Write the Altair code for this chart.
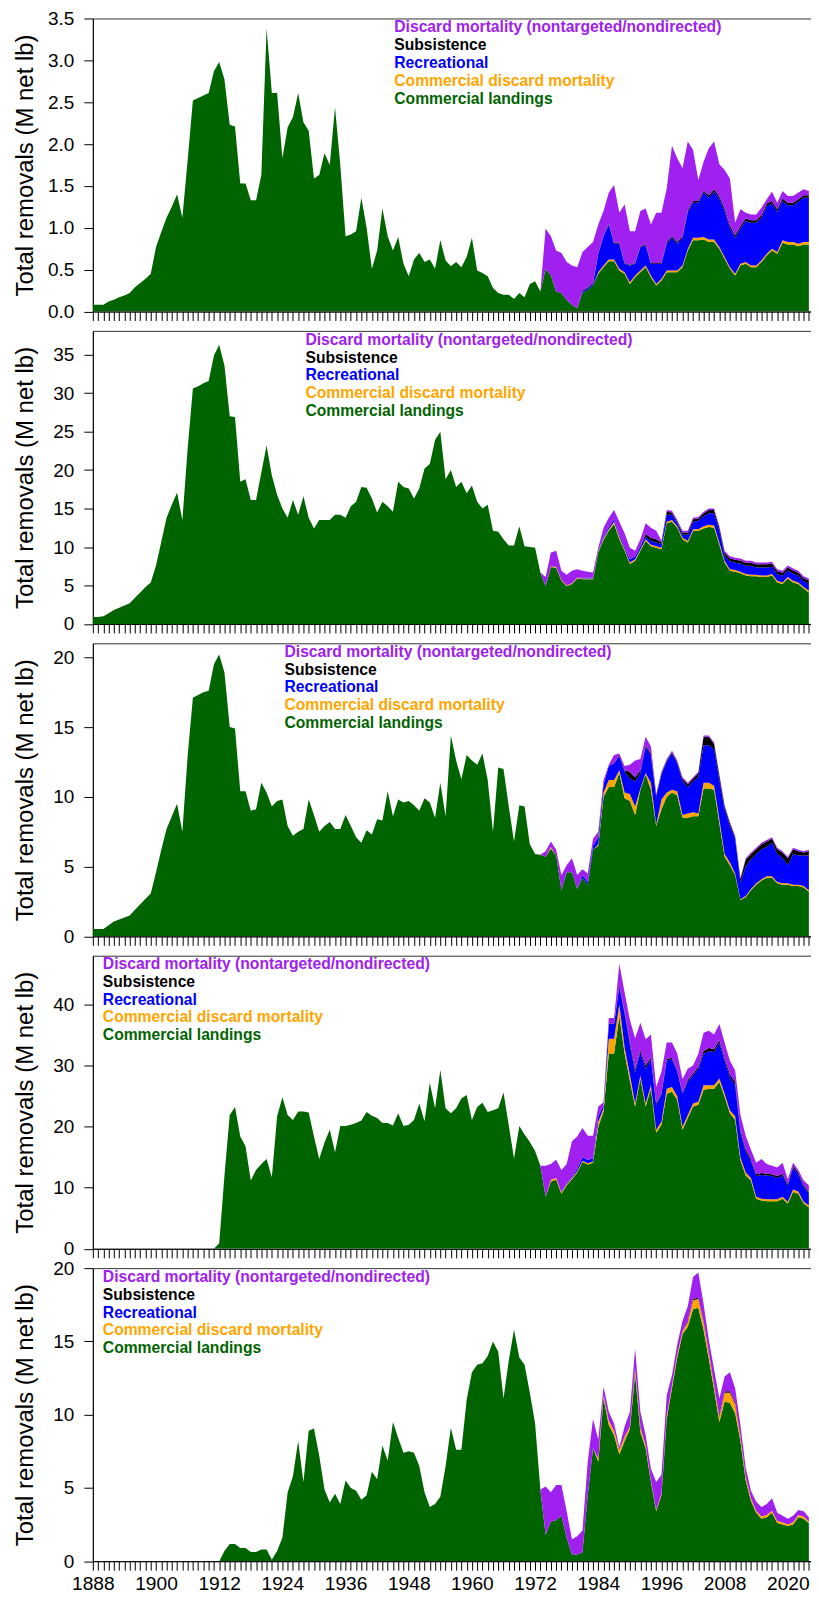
import altair as alt
import pandas as pd

YEARS = list(range(1888, 2025))
OTHER_START = 1973  # first year of the non-landings series below

SERIES = ["Commercial landings", "Commercial discard mortality", "Recreational",
          "Subsistence", "Discard mortality (nontargeted/nondirected)"]
COLORS = ["#006400", "#FFA500", "#0000FF", "#000000", "#A020F0"]

X_LABEL_YEARS = [1888, 1900, 1912, 1924, 1936, 1948, 1960, 1972, 1984, 1996, 2008, 2020]

# ---------------- Panel 1 ----------------
P1_LANDINGS = [0.08, 0.08, 0.08, 0.12, 0.14, 0.17, 0.19, 0.22, 0.29, 0.34, 0.39, 0.45,
               0.77, 0.95, 1.12, 1.25, 1.40, 1.12, 1.80, 2.52, 2.55, 2.58,
               2.61, 2.87, 2.98, 2.77, 2.23, 2.21, 1.53, 1.53, 1.33, 1.33,
               1.63, 3.38, 2.61, 2.61, 1.83, 2.20, 2.32, 2.61, 2.26, 2.16,
               1.59, 1.63, 1.89, 1.75, 2.44, 1.75, 0.90, 0.92, 0.96, 1.36,
               1.00, 0.51, 0.73, 1.23, 0.90, 0.73, 0.89, 0.57, 0.42, 0.62,
               0.70, 0.59, 0.62, 0.51, 0.85, 0.61, 0.54, 0.59, 0.53, 0.65,
               0.88, 0.49, 0.46, 0.42, 0.28, 0.22, 0.20, 0.20, 0.15, 0.22,
               0.17, 0.33, 0.36, 0.24, 0.51, 0.43, 0.24, 0.22, 0.14, 0.08,
               0.04, 0.22, 0.26, 0.31, 0.45, 0.53, 0.60, 0.60, 0.49, 0.45,
               0.33, 0.41, 0.47, 0.53, 0.41, 0.31, 0.37, 0.47, 0.47, 0.47,
               0.53, 0.73, 0.85, 0.85, 0.86, 0.83, 0.83, 0.75, 0.63, 0.51,
               0.43, 0.55, 0.57, 0.53, 0.53, 0.59, 0.67, 0.73, 0.69, 0.82,
               0.80, 0.80, 0.78, 0.80, 0.80]
P1_COMM_DISC = [0, 0, 0, 0, 0, 0, 0,
                0, 0, 0, 0, 0.02, 0.02, 0.02, 0.02, 0.02, 0.02,
                0.02, 0.02, 0.02, 0.02, 0.02, 0.02, 0.02, 0.02, 0.02, 0.02,
                0.02, 0.02, 0.03, 0.03, 0.03, 0.03, 0.03, 0.02, 0.02, 0.02,
                0.02, 0.02, 0.02, 0.02, 0.02, 0.02, 0.02, 0.02, 0.02, 0.03,
                0.03, 0.03, 0.03, 0.03, 0.03]
P1_REC = [0, 0, 0, 0, 0, 0, 0,
          0, 0.02, 0.02, 0.02, 0.22, 0.35, 0.42, 0.19, 0.30, 0.10,
          0.20, 0.14, 0.28, 0.24, 0.14, 0.24, 0.18, 0.32, 0.39, 0.32,
          0.33, 0.44, 0.42, 0.42, 0.53, 0.50, 0.57, 0.57, 0.55, 0.47,
          0.43, 0.42, 0.49, 0.51, 0.51, 0.51, 0.57, 0.54, 0.48, 0.47,
          0.44, 0.44, 0.50, 0.53, 0.53]
P1_SUBS = [0, 0, 0, 0, 0, 0, 0,
           0, 0.01, 0.01, 0.01, 0.01, 0.01, 0.01, 0.01, 0.01, 0.01,
           0.01, 0.01, 0.01, 0.01, 0.01, 0.01, 0.01, 0.02, 0.02, 0.02,
           0.02, 0.02, 0.02, 0.02, 0.02, 0.03, 0.03, 0.03, 0.03, 0.03,
           0.03, 0.03, 0.03, 0.03, 0.03, 0.03, 0.03, 0.03, 0.03, 0.03,
           0.03, 0.03, 0.03, 0.03, 0.03]
P1_DISC = [0, 0.48, 0.47, 0.49, 0.48, 0.45, 0.47,
           0.49, 0.46, 0.48, 0.49, 0.34, 0.29, 0.37, 0.69, 0.36, 0.70,
           0.40, 0.38, 0.42, 0.43, 0.46, 0.60, 0.60, 0.64, 1.08, 1.00,
           0.81, 0.82, 0.61, 0.25, 0.35, 0.56, 0.57, 0.39, 0.46, 0.56,
           0.15, 0.20, 0.07, 0.07, 0.07, 0.09, 0.05, 0.11, 0.08, 0.09,
           0.08, 0.08, 0.08, 0.07, 0.05]

# ---------------- Panel 2 ----------------
P2_LANDINGS = [0.9, 0.9, 1.0, 1.4, 1.8, 2.1, 2.4, 2.7, 3.4, 4.1, 4.8, 5.4,
               7.6, 10.7, 13.8, 15.5, 17.1, 13.5, 22.7, 30.6, 30.9, 31.3,
               31.6, 34.9, 36.3, 33.6, 27.0, 26.9, 18.5, 18.8, 16.1, 16.1,
               19.7, 23.2, 19.3, 16.8, 15.0, 13.8, 16.1, 14.2, 16.6, 13.8,
               12.4, 13.5, 13.5, 13.5, 14.2, 14.2, 13.8, 15.3, 15.9, 17.8,
               17.7, 16.3, 14.5, 15.9, 15.3, 14.6, 18.5, 17.8, 17.6, 16.3,
               17.6, 20.2, 20.8, 23.9, 25.0, 18.8, 20.0, 17.8, 18.5, 17.0,
               18.0, 15.9, 15.0, 15.5, 12.1, 12.0, 11.0, 10.2, 10.2, 12.7,
               10.1, 10.0, 9.9, 6.7, 4.9, 7.4, 7.3, 5.6, 4.9, 5.2,
               5.9, 5.8, 5.8, 5.8, 9.3, 10.9, 12.1, 13.0, 11.0, 9.5,
               7.8, 8.2, 9.5, 10.8, 10.1, 9.9, 9.7, 13.1, 13.3, 12.5,
               11.0, 10.6, 12.1, 12.1, 12.4, 12.6, 12.5, 10.3, 8.0, 6.9,
               6.8, 6.6, 6.3, 6.2, 6.2, 6.1, 6.1, 6.3, 5.4, 5.2,
               5.9, 5.4, 5.2, 4.6, 4.1]
P2_COMM_DISC = [0, 0, 0.1, 0.1, 0.1, 0.1, 0.1,
                0.1, 0.1, 0.1, 0.1, 0.1, 0.2, 0.2, 0.3, 0.3, 0.2,
                0.2, 0.2, 0.2, 0.2, 0.2, 0.2, 0.2, 0.2, 0.2, 0.2,
                0.2, 0.2, 0.2, 0.2, 0.3, 0.3, 0.3, 0.3, 0.2, 0.2,
                0.2, 0.2, 0.2, 0.2, 0.2, 0.2, 0.2, 0.2, 0.2, 0.2,
                0.2, 0.2, 0.2, 0.2, 0.2]
P2_REC = [0, 0, 0, 0, 0, 0, 0,
          0, 0.1, 0.1, 0.1, 0.1, 0.2, 0.3, 0.3, 0.3, 0.3,
          0.4, 0.4, 0.4, 0.3, 0.5, 0.5, 0.5, 0.9, 0.7, 0.4,
          0.4, 0.8, 1.0, 1.1, 1.3, 1.5, 1.6, 1.5, 0.65, 1.05,
          0.95, 1.05, 1.05, 1.15, 0.95, 1.05, 1.05, 0.95, 0.85, 0.85,
          0.85, 0.95, 0.85, 0.75, 0.95]
P2_SUBS = [0, 0, 0, 0, 0, 0, 0,
           0, 0, 0, 0, 0, 0, 0, 0, 0, 0,
           0, 0, 0, 0.4, 0.4, 0.4, 0.2, 0.4, 0.3, 0.2,
           0.3, 0.3, 0.3, 0.3, 0.4, 0.4, 0.4, 0.4, 0.4, 0.4,
           0.4, 0.4, 0.4, 0.4, 0.4, 0.4, 0.4, 0.4, 0.4, 0.4,
           0.4, 0.4, 0.4, 0.4, 0.4]
P2_DISC = [0, 1.2, 1.8, 2.1, 1.2, 1.4, 1.6,
           1.1, 0.9, 0.8, 0.7, 0.4, 1.2, 1.2, 1.2, 1.7, 1.8,
           1.5, 0.7, 0.9, 1.4, 1.3, 1.1, 0.2, 0.2, 0.2, 0.2,
           0.2, 0.2, 0.2, 0.2, 0.2, 0.2, 0.2, 0.2, 0.25, 0.25,
           0.25, 0.25, 0.25, 0.25, 0.25, 0.25, 0.25, 0.25, 0.25, 0.25,
           0.25, 0.25, 0.25, 0.25, 0.25]

# ---------------- Panel 3 ----------------
P3_LANDINGS = [0.52, 0.52, 0.52, 0.8, 1.06, 1.2, 1.35, 1.5, 1.9, 2.3, 2.7, 3.07,
               4.6, 6.2, 7.7, 8.6, 9.5, 7.5, 12.9, 17.1, 17.3, 17.5,
               17.6, 19.5, 20.2, 18.9, 15.0, 14.9, 10.4, 10.4, 9.0, 9.1,
               11.0, 10.3, 9.3, 9.7, 9.8, 7.9, 7.2, 7.5, 7.7, 9.8,
               8.7, 7.5, 7.9, 8.2, 7.7, 7.7, 8.7, 7.9, 7.1, 6.7,
               7.6, 7.3, 8.4, 8.3, 10.4, 8.6, 9.8, 9.6, 9.7, 9.4,
               9.0, 9.9, 9.6, 8.5, 11.0, 8.6, 14.4, 12.6, 11.25, 13.0,
               12.6, 12.3, 13.1, 11.2, 7.5, 12.1, 12.0, 9.3, 6.8, 9.4,
               9.3, 6.6, 5.9, 5.85, 5.7, 6.3, 5.8, 3.3, 4.6, 4.6,
               3.4, 4.2, 3.7, 6.2, 6.5, 10.0, 10.7, 10.7, 11.7, 9.9,
               9.7, 8.7, 10.5, 11.6, 10.5, 7.9, 9.1, 10.0, 10.3, 10.1,
               8.5, 8.5, 8.6, 8.6, 10.6, 10.6, 10.5, 8.1, 5.7, 5.1,
               4.4, 2.6, 2.8, 3.3, 3.7, 4.0, 4.2, 4.2, 3.8, 3.7,
               3.7, 3.6, 3.6, 3.5, 3.2]
P3_COMM_DISC = [0, 0, 0.1, 0, 0, 0, 0,
                0, 0, 0, 0, 0.1, 0.3, 0.5, 0.5, 0.2, 0.4,
                0.5, 0.6, 0.1, 0.1, 0.5, 0.1, 0.7, 0.3, 0.2, 0.3,
                0.2, 0.3, 0.3, 0.2, 0.4, 0.4, 0.3, 0.3, 0.2, 0.2,
                0.1, 0.05, 0.1, 0.1, 0.1, 0.1, 0.1, 0.1, 0.1, 0.1,
                0.1, 0.1, 0.1, 0.1, 0.1]
P3_REC = [0, 0, 0, 0, 0, 0, 0,
          0, 0.2, 0.2, 0.3, 0.5, 0.6, 1.0, 1.2, 1.0, 1.5,
          1.1, 1.8, 1.1, 1.9, 1.9, 2.0, 1.8, 2.2, 2.6, 2.0,
          2.4, 1.9, 2.2, 2.6, 2.7, 2.7, 2.6, 2.8, 3.2, 2.6,
          2.5, 1.15, 2.1, 2.1, 2.1, 2.15, 2.1, 2.4, 2.0, 1.8,
          1.3, 2.2, 2.1, 2.2, 2.5]
P3_SUBS = [0, 0, 0, 0, 0, 0, 0,
           0, 0, 0, 0, 0, 0, 0, 0, 0.1, 0.1,
           0.5, 0.3, 0.2, 0.1, 0.2, 0.1, 0.1, 0.1, 0.1, 0.1,
           0.2, 0.2, 0.2, 0.3, 0.6, 0.6, 0.4, 0.3, 0.2, 0.2,
           0.1, 0.3, 0.5, 0.4, 0.35, 0.35, 0.4, 0.3, 0.35, 0.4,
           0.5, 0.35, 0.3, 0.2, 0.3]
P3_DISC = [0, 0.4, 0.4, 0.4, 1.1, 0.5, 1.0,
           1.0, 0.4, 0.6, 0.5, 0.4, 0.3, 0.1, 0.6, 0.1, 0.3,
           0.5, 1.2, 0.8, 0.6, 0.5, 0.1, 0.1, 0.1, 0.1, 0.1,
           0.1, 0.1, 0.1, 0.1, 0.1, 0.1, 0.1, 0.1, 0.1, 0.1,
           0.1, 0.1, 0.1, 0.1, 0.1, 0.1, 0.1, 0.1, 0.1, 0.1,
           0.1, 0.1, 0.1, 0.1, 0.1]

# ---------------- Panel 4 ----------------
P4_LANDINGS = [0, 0, 0, 0, 0, 0, 0, 0, 0, 0, 0, 0,
               0, 0, 0, 0, 0, 0, 0, 0, 0, 0,
               0, 0, 0.9, 12.0, 21.9, 23.2, 18.4, 16.8, 11.2, 12.9,
               13.9, 14.7, 11.7, 21.7, 24.8, 21.9, 21.1, 22.5, 22.5, 22.3,
               18.4, 14.7, 17.4, 19.5, 15.8, 20.1, 20.1, 20.3, 20.6, 21.0,
               22.4, 21.8, 21.4, 20.6, 20.6, 20.2, 22.2, 20.1, 20.3, 21.1,
               23.8, 20.9, 27.2, 23.0, 29.3, 23.0, 22.2, 23.0, 24.6, 25.2,
               21.1, 23.2, 23.9, 22.4, 22.7, 23.0, 25.6, 20.2, 14.8, 20.1,
               18.7, 17.5, 16.0, 13.6, 8.5, 11.0, 11.3, 9.0, 10.4, 11.4,
               12.5, 14.2, 13.8, 14.1, 20.0, 22.5, 32.0, 32.0, 38.1, 32.0,
               27.5, 23.3, 27.9, 23.3, 26.2, 19.0, 20.3, 25.4, 25.7, 24.4,
               19.5, 21.4, 23.3, 23.6, 26.0, 26.2, 26.2, 27.3, 24.9, 22.2,
               21.1, 14.5, 12.0, 11.2, 8.2, 7.9, 7.8, 7.8, 7.8, 8.2,
               7.4, 9.3, 9.0, 7.4, 6.8]
P4_COMM_DISC = [0, 0, 0.3, 0.3, 0.2, 0.2, 0.2,
                0.2, 0.2, 0.2, 0.2, 0.8, 0.5, 2.4, 2.4, 1.9, 1.0,
                1.0, 0.5, 0.5, 0.5, 0.6, 0.5, 0.5, 0.8, 0.8, 0.6,
                0.5, 0.5, 0.5, 0.5, 0.8, 0.6, 0.6, 0.6, 0.5, 0.5,
                0.6, 0.5, 0.5, 0.4, 0.3, 0.3, 0.3, 0.3, 0.3, 0.3,
                0.3, 0.4, 0.4, 0.3, 0.3]
P4_REC = [0, 0, 0, 0, 0, 0.2, 0.2,
          0.4, 0.6, 0.6, 0.5, 0.9, 0.5, 2.4, 2.4, 2.9, 5.5,
          5.0, 5.1, 3.8, 5.7, 4.3, 4.0, 4.5, 4.6, 4.6, 4.0,
          5.4, 5.5, 4.6, 5.4, 5.1, 5.6, 5.4, 5.9, 5.4, 5.4,
          5.1, 4.0, 3.4, 2.8, 3.4, 3.9, 3.9, 3.8, 3.5, 3.5,
          2.6, 3.6, 2.8, 2.4, 2.0]
P4_SUBS = [0, 0, 0, 0, 0, 0, 0,
           0, 0, 0, 0, 0, 0, 0.1, 0.1, 0.3, 0.3,
           0.5, 0.5, 0.3, 0.5, 0.3, 0.3, 0.2, 0.3, 0.2, 0.2,
           0.2, 0.3, 0.3, 0.3, 0.5, 0.5, 0.5, 0.4, 0.4, 0.5,
           0.5, 0.4, 0.4, 0.3, 0.3, 0.3, 0.3, 0.3, 0.3, 0.3,
           0.3, 0.3, 0.3, 0.3, 0.2]
P4_DISC = [0, 5.1, 2.6, 3.0, 3.7, 3.1, 5.8,
           5.3, 4.8, 3.9, 3.7, 1.6, 0.5, 0.9, 0.9, 3.5, 3.2,
           3.5, 5.1, 4.5, 4.3, 3.7, 2.7, 3.5, 2.7, 2.5, 2.8,
           2.2, 1.8, 1.3, 2.1, 3.0, 2.8, 2.4, 2.6, 2.6, 2.2,
           1.9, 2.5, 2.2, 1.5, 1.9, 2.3, 1.6, 1.4, 1.4, 1.8,
           0.8, 0.5, 0.4, 0.8, 1.1]

# ---------------- Panel 5 ----------------
P5_LANDINGS = [0, 0, 0, 0, 0, 0, 0, 0, 0, 0, 0, 0,
               0, 0, 0, 0, 0, 0, 0, 0, 0, 0,
               0, 0, 0, 0.7, 1.17, 1.17, 0.9, 0.9, 0.63, 0.63,
               0.79, 0.79, 0.1, 0.7, 1.6, 4.7, 5.8, 8.2, 5.4, 8.9,
               9.05, 7.2, 4.9, 4.0, 4.6, 3.9, 5.5, 5.0, 4.8, 4.2,
               4.5, 6.1, 5.6, 7.9, 6.85, 9.5, 8.4, 7.4, 7.5, 7.4,
               6.5, 4.7, 3.7, 3.9, 4.4, 6.5, 9.1, 7.6, 7.6, 11.0,
               12.9, 13.4, 13.5, 14.0, 15.0, 14.3, 11.1, 13.7, 15.8, 13.9,
               13.4, 11.5, 9.4, 4.9, 1.8, 2.7, 2.8, 3.1, 1.6, 0.45,
               0.45, 0.6, 4.5, 7.7, 6.8, 11.1, 9.3, 8.6, 7.3, 8.2,
               9.0, 12.8, 8.8, 7.7, 5.4, 3.4, 4.5, 9.7, 11.8, 13.9,
               15.5, 16.0, 17.2, 17.3, 15.8, 13.8, 11.7, 9.5, 10.9, 10.8,
               10.1, 8.2, 5.5, 4.1, 3.3, 2.9, 3.0, 3.3, 2.6, 2.5,
               2.4, 2.5, 3.0, 2.9, 2.6]
P5_COMM_DISC = [0, 0, 0, 0, 0, 0, 0,
                0, 0, 0, 0, 0.2, 0.2, 0.3, 0.3, 0.3, 0.3,
                0.2, 0.3, 0.3, 0.2, 0.1, 0.1, 0.1, 0.2, 0.2, 0.2,
                0.2, 0.3, 0.6, 0.6, 0.5, 0.4, 0.3, 0.3, 0.6, 0.7,
                0.6, 0.3, 0.25, 0.2, 0.15, 0.15, 0.15, 0.15, 0.15, 0.15,
                0.1, 0.15, 0.15, 0.15, 0.1]
P5_REC = [0, 0, 0, 0, 0, 0, 0,
          0, 0, 0, 0, 0, 0, 0, 0, 0, 0,
          0, 0, 0, 0, 0, 0, 0, 0, 0, 0,
          0, 0, 0, 0, 0, 0, 0, 0, 0, 0,
          0, 0, 0, 0, 0, 0, 0, 0, 0, 0,
          0, 0, 0, 0, 0]
P5_SUBS = [0, 0, 0, 0, 0, 0, 0,
           0, 0, 0, 0, 0, 0.05, 0, 0, 0, 0,
           0, 0.1, 0.1, 0, 0, 0, 0, 0, 0, 0,
           0, 0.1, 0.1, 0.1, 0.05, 0.05, 0.05, 0.05, 0.1, 0.1,
           0.1, 0.05, 0.05, 0, 0, 0, 0, 0, 0, 0,
           0, 0, 0, 0, 0]
P5_DISC = [0, 3.3, 2.0, 2.4, 2.1, 1.8, 1.05,
           1.25, 1.5, 2.3, 2.0, 1.3, 0.55, 0.6, 0.5, 0.2, 0.7,
           1.0, 1.3, 1.0, 0.7, 0.8, 1.9, 1.3, 1.4, 0.7, 0.7,
           0.7, 1.0, 1.5, 1.7, 1.2, 0.85, 1.05, 1.25, 1.0, 1.3,
           1.0, 0.75, 0.6, 0.5, 0.6, 0.65, 0.75, 0.85, 0.55, 0.45,
           0.4, 0.45, 0.35, 0.35, 0.3]

Y_TICKS = [
    [0.0, 0.5, 1.0, 1.5, 2.0, 2.5, 3.0, 3.5],
    [0, 5, 10, 15, 20, 25, 30, 35],
    [0, 5, 10, 15, 20],
    [0, 10, 20, 30, 40],
    [0, 5, 10, 15, 20],
]
Y_MAX = [3.5, 38.1, 21.0, 48.0, 20.0]
Y_FMT = [".1f", "d", "d", "d", "d"]

PANEL_SERIES = [
    (P1_LANDINGS, P1_COMM_DISC, P1_REC, P1_SUBS, P1_DISC),
    (P2_LANDINGS, P2_COMM_DISC, P2_REC, P2_SUBS, P2_DISC),
    (P3_LANDINGS, P3_COMM_DISC, P3_REC, P3_SUBS, P3_DISC),
    (P4_LANDINGS, P4_COMM_DISC, P4_REC, P4_SUBS, P4_DISC),
    (P5_LANDINGS, P5_COMM_DISC, P5_REC, P5_SUBS, P5_DISC),
]

# layout (pixels, relative to each plot area)
LEGEND_X = [302, 213, 192, 10, 10]
LEGEND_Y0 = [9, 9, 8.5, 8.5, 9]
LEGEND_STEP = 17.8
PLOT_W = 720
PLOT_H = 293.6
FONT = "Liberation Sans"


def build_frame(series):
    rows = []
    for i, yr in enumerate(YEARS):
        for k, arr in enumerate(series):
            if k == 0:
                v = arr[i]
            else:
                j = yr - OTHER_START
                v = arr[j] if j >= 0 else 0.0
            rows.append({"year": yr, "series": SERIES[k], "order": k, "value": v})
    return pd.DataFrame(rows)


def make_panel(p, bottom):
    df = build_frame(PANEL_SERIES[p])
    if bottom:
        xaxis = alt.Axis(values=YEARS, format="d", title=None,
                         labelExpr="indexof(" + str(X_LABEL_YEARS) + ", datum.value) >= 0 ? datum.label : ''",
                         labelOverlap=False, labelFlush=False, labelFontSize=19.2, labelFont=FONT,
                         labelColor="black", labelPadding=4.5, tickSize=9, tickColor="black",
                         domainColor="black", grid=False)
    else:
        xaxis = alt.Axis(values=YEARS, labels=False, title=None, tickSize=9, tickColor="black",
                         domainColor="black", grid=False)
    yaxis = alt.Axis(values=Y_TICKS[p], format=Y_FMT[p], title="Total removals (M net lb)",
                     titleFontSize=24, titleFont=FONT, titleFontWeight="normal", titleColor="black",
                     titleX=-67.5, titleY=PLOT_H / 2, titleAngle=270, titleAlign="center",
                     titleBaseline="middle",
                     labelFontSize=19, labelFont=FONT, labelColor="black", labelPadding=10,
                     tickSize=9, tickColor="black", domainColor="black", grid=False)
    area = alt.Chart(df).mark_area(interpolate="linear", clip=True).encode(
        x=alt.X("year:Q", scale=alt.Scale(domain=[1888, 2024.5], nice=False, zero=False), axis=xaxis),
        y=alt.Y("value:Q", stack="zero", scale=alt.Scale(domain=[0, Y_MAX[p]], nice=False), axis=yaxis),
        color=alt.Color("series:N", scale=alt.Scale(domain=SERIES, range=COLORS), legend=None),
        order=alt.Order("order:Q", sort="ascending"),
    )
    layers = [area]
    for i, k in enumerate([4, 3, 2, 1, 0]):
        t = alt.Chart(pd.DataFrame({"label": [SERIES[k]]})).mark_text(
            align="left", baseline="middle", fontSize=15.7, fontWeight="bold", font=FONT,
            color=COLORS[k]
        ).encode(
            x=alt.value(LEGEND_X[p]),
            y=alt.value(LEGEND_Y0[p] + i * LEGEND_STEP),
            text="label:N",
        )
        layers.append(t)
    return alt.layer(*layers).properties(width=PLOT_W, height=PLOT_H)


panels = [make_panel(p, p == 4) for p in range(5)]
chart = alt.vconcat(*panels, spacing=19, bounds="flush").properties(
    padding={"left": 5, "top": -1, "right": -1.5, "bottom": 0}
).configure_view(stroke="#333333", strokeWidth=1)

chart.save("out.html", embed_options={"renderer": "svg", "actions": False})
